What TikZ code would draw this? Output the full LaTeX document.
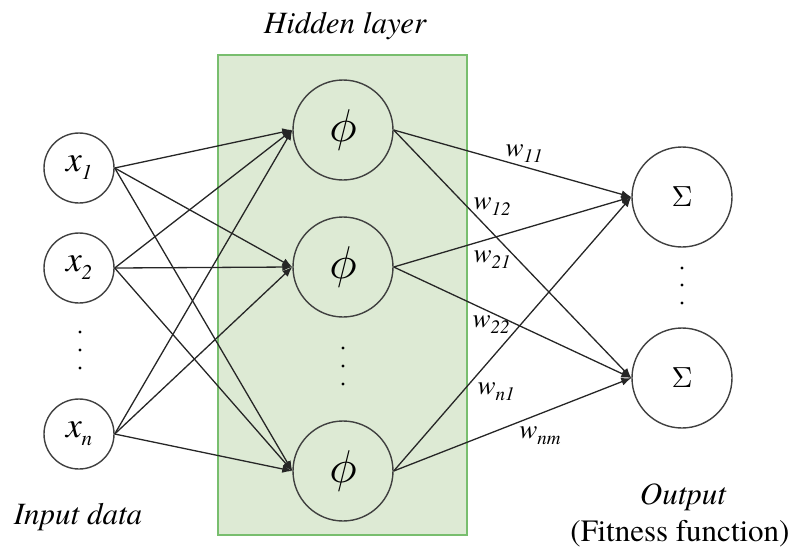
\documentclass[tikz,border=0pt]{standalone}
\usepackage{fontspec}
\setmainfont{TeX Gyre Termes}
\usetikzlibrary{arrows.meta}
\definecolor{layerfill}{RGB}{221,234,212}
\definecolor{layeredge}{RGB}{120,190,110}
\definecolor{ringgray}{RGB}{64,64,64}
\newcommand{\fsz}[1]{\fontsize{#1}{#1}\selectfont}
\begin{document}
\begin{tikzpicture}[x=1pt,y=-1pt,
  neuron/.style={circle,draw=ringgray,line width=1.4pt,inner sep=0pt},
  inneuron/.style={neuron,fill=white,minimum size=70pt},
  hidneuron/.style={neuron,minimum size=100pt},
  outneuron/.style={neuron,fill=white,minimum size=100pt},
  link/.style={line width=1.3pt,draw=black!85,-{Latex[length=10pt,width=8pt]}},
  weight/.style={inner sep=0pt},
  caption/.style={inner sep=0pt,font=\fsz{31}\itshape},
]
\useasboundingbox (0,0) rectangle (792,552);

% hidden layer panel
\node[draw=layeredge,fill=layerfill,line width=1.5pt,minimum width=249pt,minimum height=480pt,inner sep=0pt]
  (panel) at (342.5,295) {};
\node[caption] (hidcap) at (345,26) {Hidden layer};

% input neurons
\node[inneuron] (x1) at (79,168) {{\fsz{36}\itshape x}\raisebox{-8pt}{\fsz{21}\itshape 1}};
\node[inneuron] (x2) at (79,268) {{\fsz{36}\itshape x}\raisebox{-8pt}{\fsz{21}\itshape 2}};
\node[inneuron] (xn) at (79,434) {{\fsz{36}\itshape x}\raisebox{-8pt}{\fsz{21}\itshape n}};
\foreach \yy in {332,350,368} \fill (80,\yy) circle (1.7pt);

% hidden neurons
\node[hidneuron] (h1) at (343,130) {\scalebox{4.6}{$\phi$}};
\node[hidneuron] (h2) at (343,267) {\scalebox{4.6}{$\phi$}};
\node[hidneuron] (h3) at (343,471) {\scalebox{4.6}{$\phi$}};
\foreach \yy in {348,366,384} \fill (343,\yy) circle (1.7pt);

% output neurons
\node[outneuron] (o1) at (682,197) {\scalebox{2.9}{$\Sigma$}};
\node[outneuron] (o2) at (682,378) {\scalebox{2.9}{$\Sigma$}};
\foreach \yy in {268,285,303} \fill (682,\yy) circle (1.7pt);

% input -> hidden
\foreach \a in {x1,x2,xn}
  \foreach \b in {h1,h2,h3}
    \draw[link] (\a.east) -- (\b.west);

% hidden -> output
\foreach \a in {h1,h2,h3}
  \foreach \b in {o1,o2}
    \draw[link] (\a.east) -- (\b.west);

% weights
\node[weight] (w11) at (524,154) {{\fsz{27}\itshape w}\raisebox{-6pt}{\fsz{19}\itshape 11}};
\node[weight] (w12) at (492,207) {{\fsz{27}\itshape w}\raisebox{-6pt}{\fsz{19}\itshape 12}};
\node[weight] (w21) at (492,260) {{\fsz{27}\itshape w}\raisebox{-6pt}{\fsz{19}\itshape 21}};
\node[weight] (w22) at (491,325) {{\fsz{27}\itshape w}\raisebox{-6pt}{\fsz{19}\itshape 22}};
\node[weight] (wn1) at (496,392) {{\fsz{27}\itshape w}\raisebox{-6pt}{\fsz{19}\itshape n1}};
\node[weight] (wnm) at (540,436) {{\fsz{27}\itshape w}\raisebox{-6pt}{\fsz{19}\itshape nm}};

% captions
\node[caption] (incap) at (78,517) {Input data};
\node[caption] (outcap) at (683,497) {Output};
\node[inner sep=0pt,font=\fsz{31}] (fitcap) at (680,534) {(Fitness function)};
\end{tikzpicture}
\end{document}
